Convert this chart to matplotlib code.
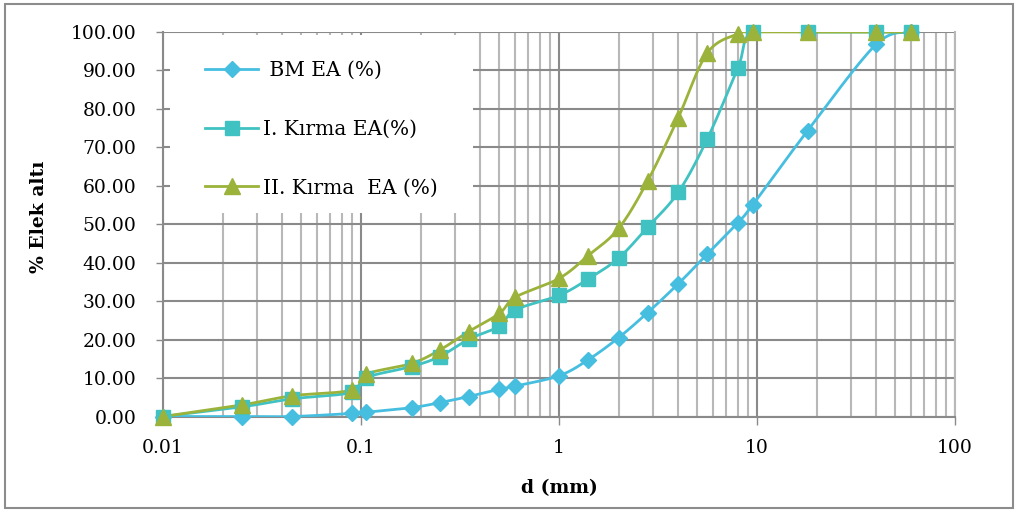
import numpy as np
import matplotlib
matplotlib.use("Agg")
import matplotlib.pyplot as plt
from matplotlib.patches import Rectangle
from matplotlib.ticker import NullFormatter, LogLocator

# ---- data ----
sieve_mm = [0.01, 0.025, 0.045, 0.09, 0.106, 0.18, 0.25, 0.35, 0.5, 0.6,
            1.0, 1.4, 2.0, 2.8, 4.0, 5.6, 8.0, 9.5, 18.0, 40.0, 60.0]
bm_ea = [0.0, 0.0, 0.0, 0.8, 1.1, 2.3, 3.6, 5.2, 7.1, 7.9,
         10.6, 14.7, 20.5, 27.0, 34.5, 42.2, 50.4, 55.0, 74.3, 96.8, 100.0]
kirma1_ea = [0.0, 2.5, 4.6, 6.3, 10.1, 13.0, 15.6, 20.1, 23.5, 27.7,
             31.5, 35.7, 41.2, 49.2, 58.3, 72.1, 90.6, 100.0, 100.0, 100.0, 100.0]
kirma2_ea = [0.0, 3.0, 5.4, 6.9, 11.0, 13.8, 17.3, 22.1, 26.8, 31.0,
             35.9, 41.8, 48.9, 61.2, 77.7, 94.5, 99.5, 100.0, 100.0, 100.0, 100.0]
labels = [" BM EA (%)", "I. Kırma EA(%)", "II. Kırma  EA (%)"]
yticks = [0, 10, 20, 30, 40, 50, 60, 70, 80, 90, 100]
xticks = [0.01, 0.1, 1, 10, 100]
xticklabels = ["0.01", "0.1", "1", "10", "100"]

colors = ["#46BEE0", "#40C2C2", "#9BB33B"]
markers = ["D", "s", "^"]
msizes = [8.5, 10, 11]


def smooth(xs, ys, n=30):
    """Excel-like smoothed line (Catmull-Rom Bezier) in log-x space."""
    lx = np.log10(np.asarray(xs, float))
    y = np.asarray(ys, float)
    P = np.column_stack([lx, y])
    P = np.vstack([P[0], P, P[-1]])
    out = []
    t = np.linspace(0, 1, n)[:, None]
    for i in range(1, len(P) - 2):
        p0, p1, p2, p3 = P[i - 1], P[i], P[i + 1], P[i + 2]
        c1 = p1 + (p2 - p0) / 6.0
        c2 = p2 - (p3 - p1) / 6.0
        seg = ((1 - t) ** 3) * p1 + 3 * ((1 - t) ** 2) * t * c1 + 3 * (1 - t) * t ** 2 * c2 + t ** 3 * p2
        out.append(seg if i == 1 else seg[1:])
    out = np.vstack(out)
    return 10 ** out[:, 0], out[:, 1]


plt.rcParams['font.family'] = ['DejaVu Serif']
fig = plt.figure(figsize=(10.19, 5.12), dpi=100)
ax = fig.add_axes([163 / 1019, 1 - 416.5 / 512, (955 - 163) / 1019, (416.5 - 32) / 512])

ax.set_xscale("log")
ax.set_xlim(0.01, 100)
ax.set_ylim(0, 100)

series = [bm_ea, kirma1_ea, kirma2_ea]
handles = []
for vals, c, m, ms, lab in zip(series, colors, markers, msizes, labels):
    sx, sy = smooth(sieve_mm, vals)
    ax.plot(sx, sy, color=c, lw=2.0, zorder=3, clip_on=True)
    ax.plot(sieve_mm, vals, linestyle="none", marker=m, markersize=ms,
            color=c, markeredgecolor=c, zorder=4, clip_on=False)
    h, = ax.plot([], [], color=c, lw=2.0, marker=m, markersize=ms,
                 markeredgecolor=c, label=lab)
    handles.append(h)

# grid
ax.set_axisbelow(True)
ax.xaxis.set_minor_locator(LogLocator(base=10, subs=np.arange(2, 10)))
ax.xaxis.set_minor_formatter(NullFormatter())
ax.grid(which="major", axis="both", color="#8A8A8A", lw=1.5)
ax.grid(which="minor", axis="x", color="#B8B8B8", lw=1.5)

ax.set_yticks(yticks)
ax.set_yticklabels([f"{v:.2f}" for v in yticks])
ax.set_xticks(xticks)
ax.set_xticklabels(xticklabels)
ax.tick_params(axis="y", which="major", direction="out", length=5, width=1,
               color="#8A8A8A", labelsize=13.5, pad=14)
ax.tick_params(axis="x", which="major", direction="out", length=6, width=1,
               color="#8A8A8A", labelsize=13.5, pad=10)
ax.tick_params(axis="x", which="minor", length=0)

for s in ax.spines.values():
    s.set_color("#8A8A8A")
    s.set_linewidth(1.5)
ax.spines["top"].set_visible(False)
ax.spines["right"].set_color("#B8B8B8")

# legend background (covers grid)
x0 = 10 ** (-2 + (170 - 163) / 198.0)
x1 = 10 ** (-2 + (473 - 163) / 198.0)
y0 = (416.5 - 213) / 3.845
y1 = (416.5 - 35) / 3.845
ax.add_patch(Rectangle((x0, y0), x1 - x0, y1 - y0, facecolor="white",
                       edgecolor="none", zorder=1))

leg = ax.legend(handles=handles, loc="upper left",
                bbox_to_anchor=((205 - 163) / 792, (416.5 - 61) / 384.5),
                frameon=False, fontsize=14.5, handlelength=2.65,
                handletextpad=0.25, labelspacing=1.97, borderpad=0.0,
                borderaxespad=0.0)

ax.set_ylabel("% Elek altı", fontsize=13.5, fontweight="bold")
ax.yaxis.set_label_coords(-0.145, 0.52)
ax.set_xlabel("d (mm)", fontsize=13.5, fontweight="bold")
ax.xaxis.set_label_coords(0.5, -0.163)

# outer frame
fig.patches.append(Rectangle((5 / 1019, 4 / 512), 1008 / 1019, 504 / 512,
                             transform=fig.transFigure, fill=False,
                             edgecolor="#8C8C8C", lw=1.5))

fig.savefig("out.png", dpi=100)
